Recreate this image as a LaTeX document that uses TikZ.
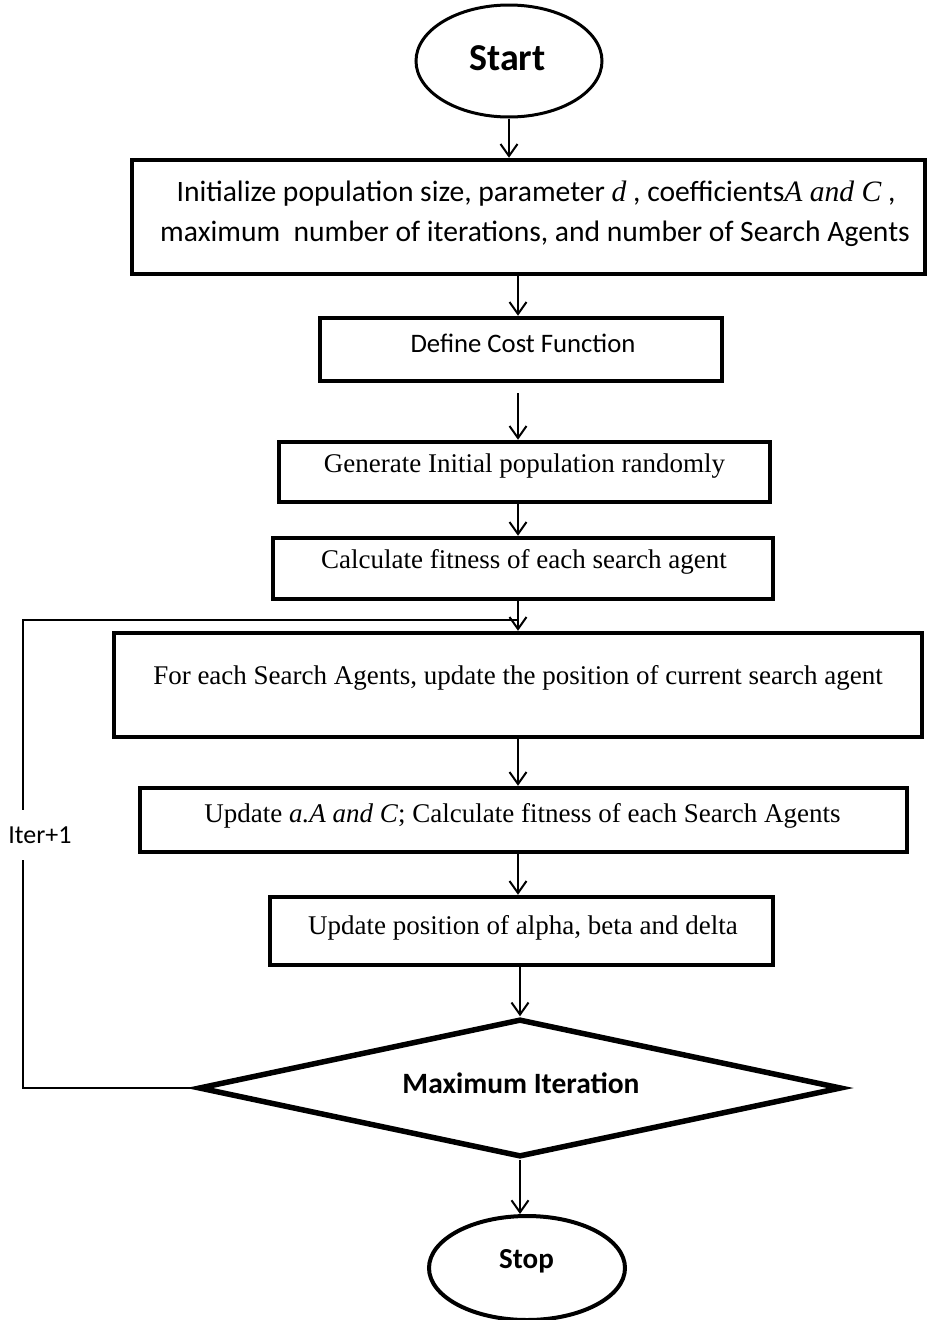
\documentclass[tikz,border=0pt]{standalone}
\usepackage{fontspec}
\setmainfont{Liberation Serif}
\newfontfamily\calib{Carlito}
\usetikzlibrary{shapes.geometric,arrows.meta}
\newcommand\mvar[1]{{\rmfamily\itshape #1}}
\begin{document}
\begin{tikzpicture}[x=1pt,y=-1pt,
  box/.style={draw,rectangle,line width=4.5pt,inner sep=0pt},
  flow/.style={line width=2pt,-{Straight Barb[length=12pt,width=17pt,line width=2pt]}},
  sertext/.style={anchor=base,inner sep=0pt,font=\fontsize{27}{32}\selectfont},
  caltext/.style={anchor=base,inner sep=0pt,font=\calib\fontsize{29.6}{40}\selectfont},
  boldtext/.style={anchor=base,inner sep=0pt,font=\calib\bfseries\fontsize{29.5}{32}\selectfont}
]
\useasboundingbox (0,0) rectangle (930,1320);
% shapes
\node[draw,ellipse,line width=3pt,minimum width=186pt,minimum height=112pt,inner sep=0pt] (start) at (509,61) {};
\node[boldtext,font=\calib\bfseries\fontsize{38}{40}\selectfont] (tstart) at (507.5,70) {Start};

\node[box,minimum width=793pt,minimum height=114pt] (b1) at (528.5,217) {};
\node[caltext] (t1a) at (536,201) {Initialize population size, parameter \mvar{d} , coefficients\mvar{A and C} ,};
\node[caltext] (t1b) at (535,241) {maximum\ \ number of iterations, and number of Search Agents};

\node[box,minimum width=402pt,minimum height=63pt] (b2) at (521,349.5) {};
\node[caltext,font=\calib\fontsize{26.7}{30}\selectfont] (t2) at (523,352) {Define Cost Function};

\node[box,minimum width=491pt,minimum height=60pt] (b3) at (524.5,472) {};
\node[sertext] (t3) at (524.5,472) {Generate Initial population randomly};

\node[box,minimum width=500pt,minimum height=61pt] (b4) at (523,568.5) {};
\node[sertext] (t4) at (524,568) {Calculate fitness of each search agent};

\node[box,minimum width=808pt,minimum height=104pt] (b5) at (518,685) {};
\node[sertext] (t5) at (518,684) {For each Search Agents, update the position of current search agent};

\node[box,minimum width=767pt,minimum height=64pt] (b6) at (523.5,820) {};
\node[sertext] (t6) at (522.5,822) {Update \textit{a.A and C}; Calculate fitness of each Search Agents};

\node[box,minimum width=503pt,minimum height=68pt] (b7) at (521.5,931) {};
\node[sertext] (t7) at (523,934) {Update position of alpha, beta and delta};

\node[draw,diamond,line width=5.5pt,minimum width=643pt,minimum height=138pt,inner sep=0pt] (dia) at (520,1088) {};
\node[boldtext] (tdia) at (521,1093) {Maximum Iteration};

\node[draw,ellipse,line width=4pt,minimum width=196pt,minimum height=104pt,inner sep=0pt] (stop) at (527,1268) {};
\node[boldtext,font=\calib\bfseries\fontsize{29}{30}\selectfont] (tstop) at (526.5,1268) {Stop};

% connectors
\draw[flow] (start.south) -- (start.south |- b1.north);
\draw[flow] (b5.north |- b1.south) -- (b5.north |- b2.north);
\draw[flow,shorten <=10pt] (b5.north |- b2.south) -- (b5.north |- b3.north);
\draw[flow] (b5.north |- b3.south) -- (b5.north |- b4.north);
\draw[flow] (b5.north |- b4.south) -- (b5.north);
\draw[flow] (b5.south) -- (b5.south |- b6.north);
\draw[flow] (b5.south |- b6.south) -- (b5.south |- b7.north);
\draw[flow] (dia.north |- b7.south) -- (dia.north);
\draw[flow] (dia.south) -- (dia.south |- stop.north);
\coordinate (lc) at (23,620);
\coordinate (jn) at (b5.north |- lc);
\draw[line width=2pt] (dia.west) -| (lc) -- (jn);
\node[fill=white,inner xsep=1pt,inner ysep=0pt,minimum height=50pt,font=\calib\fontsize{26}{30}\selectfont] (iter) at (40,835) {Iter+1};
\end{tikzpicture}
\end{document}
